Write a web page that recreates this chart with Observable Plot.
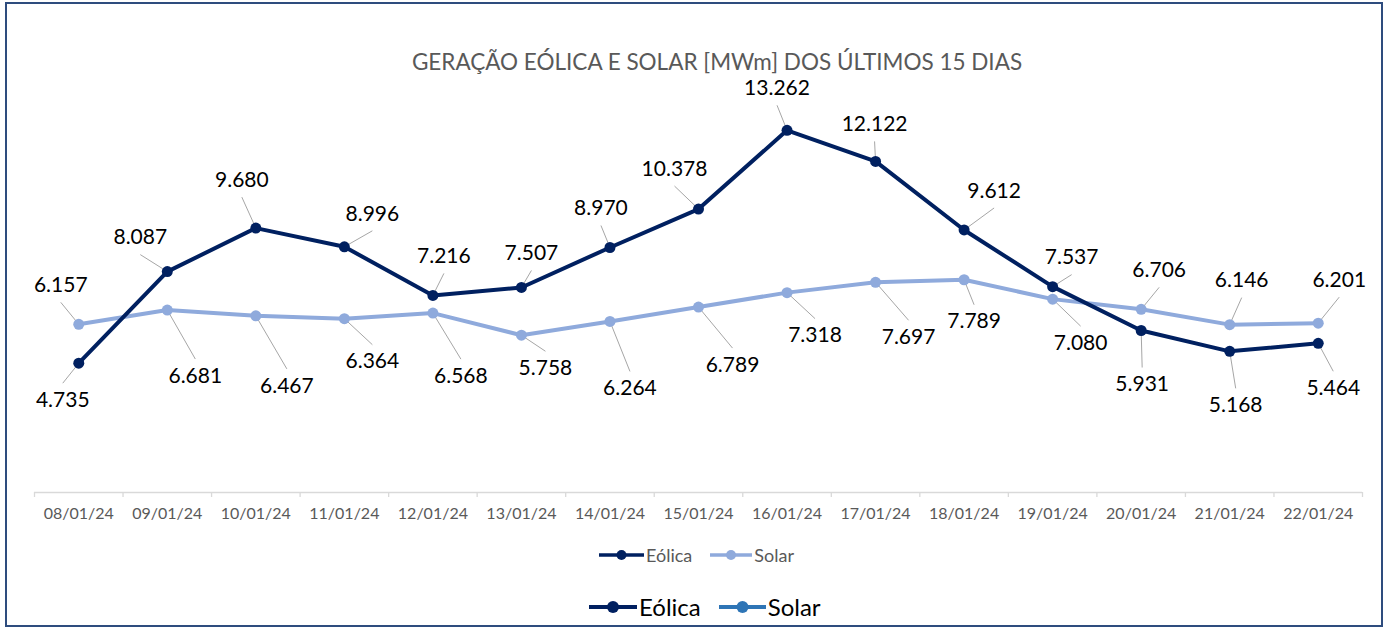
<!DOCTYPE html>
<html>
<head>
<meta charset="utf-8">
<script src="https://cdn.jsdelivr.net/npm/d3@7"></script>
<script src="https://cdn.jsdelivr.net/npm/@observablehq/plot@0.6"></script>
<style>
  html, body { margin: 0; padding: 0; background: #fff; }
  #wrap { position: relative; width: 1390px; height: 629px; overflow: hidden; font-family: Lato, "Open Sans", sans-serif; }
  #frame { position: absolute; left: 5px; top: 2px; width: 1374px; height: 621px; border: 2px solid #2E4C7E; pointer-events: none; }
  #title { position: absolute; top: 48px; left: 717px; transform: translateX(-50%); white-space: nowrap; font-size: 22.5px; line-height: 28px; color: #595959; }
  #chart { position: absolute; left: 0; top: 0; }
  .legend { position: absolute; display: flex; align-items: center; white-space: nowrap; }
  .legend .item { display: flex; align-items: center; }
  #legend1 { top: 543px; left: 599px; font-size: 18px; line-height: 24px; color: #595959; }
  #legend2 { top: 592px; left: 589px; font-size: 24px; line-height: 30px; color: #000; }
</style>
</head>
<body>
<div id="wrap">
  <div id="chart"></div>
  <div id="title">GERAÇÃO EÓLICA E SOLAR [MWm] DOS ÚLTIMOS 15 DIAS</div>
  <div id="legend1" class="legend"></div>
  <div id="legend2" class="legend"></div>
  <div id="frame"></div>
</div>
<script>
// ---- data ----
const dates = ["08/01/24","09/01/24","10/01/24","11/01/24","12/01/24","13/01/24","14/01/24","15/01/24","16/01/24","17/01/24","18/01/24","19/01/24","20/01/24","21/01/24","22/01/24"];
const eolica = [4735, 8087, 9680, 8996, 7216, 7507, 8970, 10378, 13262, 12122, 9612, 7537, 5931, 5168, 5464];
const solar  = [6157, 6681, 6467, 6364, 6568, 5758, 6264, 6789, 7318, 7697, 7789, 7080, 6706, 6146, 6201];
const seriesNames = ["Eólica", "Solar"];

// ---- label layout (pixel offsets of each data label from its point) ----
const eolicaLabelOffsets = [[-16,37],[-27,-34],[-14,-48],[28,-33],[11,-39],[10,-34],[-9,-39],[-24,-40],[-10,-42],[-1,-37],[30,-39],[19,-29],[1,54],[6,54],[15,45]];
const solarLabelOffsets  = [[-18,-39],[28,66],[31,70],[28,43],[28,63],[24,33],[20,67],[34,58],[28,43],[33,55],[10,42],[28,44],[18,-39],[12,-44],[21,-43]];

// ---- styling / geometry ----
const W = 1390, H = 530;
const mL = 34, mR = 28, mT = 55, mB = 38;
const yMax = 16000;
const pxX = (W - mL - mR) / dates.length;
const pxY = (H - mT - mB) / yMax;
const colEolica = "#002060", colSolar = "#8FAADC", colSolarLegend2 = "#2E75B6";
const leaderGap = 17;

const fmt = d3.formatLocale({decimal: ",", thousands: ".", grouping: [3], currency: ["R$", ""]}).format(",d");

function build(values, offsets) {
  return values.map((v, i) => {
    const [dx, dy] = offsets[i];
    const lx = i + dx / pxX;
    const ly = v - dy / pxY;
    const endDy = dy > 0 ? dy - leaderGap : dy + leaderGap;
    return {i, v, label: fmt(v), lx, ly, ex: lx, ey: v - endDy / pxY};
  });
}
const eData = build(eolica, eolicaLabelOffsets);
const sData = build(solar, solarLabelOffsets);

const boundaries = d3.range(dates.length + 1).map(k => k - 0.5);

const plot = Plot.plot({
  width: W, height: H,
  marginLeft: mL, marginRight: mR, marginTop: mT, marginBottom: mB,
  style: {fontFamily: "Lato, 'Open Sans', sans-serif", background: "transparent", overflow: "visible"},
  x: {type: "linear", domain: [-0.5, dates.length - 0.5], axis: null},
  y: {domain: [0, yMax], axis: null},
  marks: [
    Plot.ruleY([0], {stroke: "#D9D9D9", strokeWidth: 1.3}),
    Plot.axisX(boundaries, {tickSize: 5, tickFormat: () => "", stroke: "#D9D9D9", strokeWidth: 1.3}),
    Plot.axisX(d3.range(dates.length), {tickSize: 0, tickPadding: 15, tickFormat: i => dates[i], fontSize: 16, fill: "#595959"}),
    Plot.link(sData, {x1: "i", y1: "v", x2: "ex", y2: "ey", stroke: "#A6A6A6", strokeWidth: 1}),
    Plot.link(eData, {x1: "i", y1: "v", x2: "ex", y2: "ey", stroke: "#A6A6A6", strokeWidth: 1}),
    Plot.line(sData, {x: "i", y: "v", stroke: colSolar, strokeWidth: 4, strokeLinejoin: "round"}),
    Plot.dot(sData, {x: "i", y: "v", r: 5.5, fill: colSolar, stroke: null}),
    Plot.line(eData, {x: "i", y: "v", stroke: colEolica, strokeWidth: 4, strokeLinejoin: "round"}),
    Plot.dot(eData, {x: "i", y: "v", r: 5.5, fill: colEolica, stroke: null}),
    Plot.text(eData, {x: "lx", y: "ly", text: "label", fontSize: 21, fill: "#000", textAnchor: "middle", lineAnchor: "middle"}),
    Plot.text(sData, {x: "lx", y: "ly", text: "label", fontSize: 21, fill: "#000", textAnchor: "middle", lineAnchor: "middle"})
  ]
});
document.getElementById("chart").appendChild(plot);

// ---- legends ----
function marker(color, w, sw, r) {
  return `<svg width="${w}" height="${2*r+2}" style="display:block"><line x1="0" x2="${w}" y1="${r+1}" y2="${r+1}" stroke="${color}" stroke-width="${sw}"/><circle cx="${w/2}" cy="${r+1}" r="${r}" fill="${color}"/></svg>`;
}
document.getElementById("legend1").innerHTML =
  `<div class="item">${marker(colEolica, 45, 3.5, 5)}<span style="margin-left:2px">${seriesNames[0]}</span></div>` +
  `<div class="item" style="margin-left:18px">${marker(colSolar, 42, 3.5, 5)}<span style="margin-left:2px">${seriesNames[1]}</span></div>`;
document.getElementById("legend2").innerHTML =
  `<div class="item">${marker(colEolica, 48, 4, 6)}<span style="margin-left:2px">${seriesNames[0]}</span></div>` +
  `<div class="item" style="margin-left:18px">${marker(colSolarLegend2, 47, 4, 6)}<span style="margin-left:2px">${seriesNames[1]}</span></div>`;
</script>
</body>
</html>
